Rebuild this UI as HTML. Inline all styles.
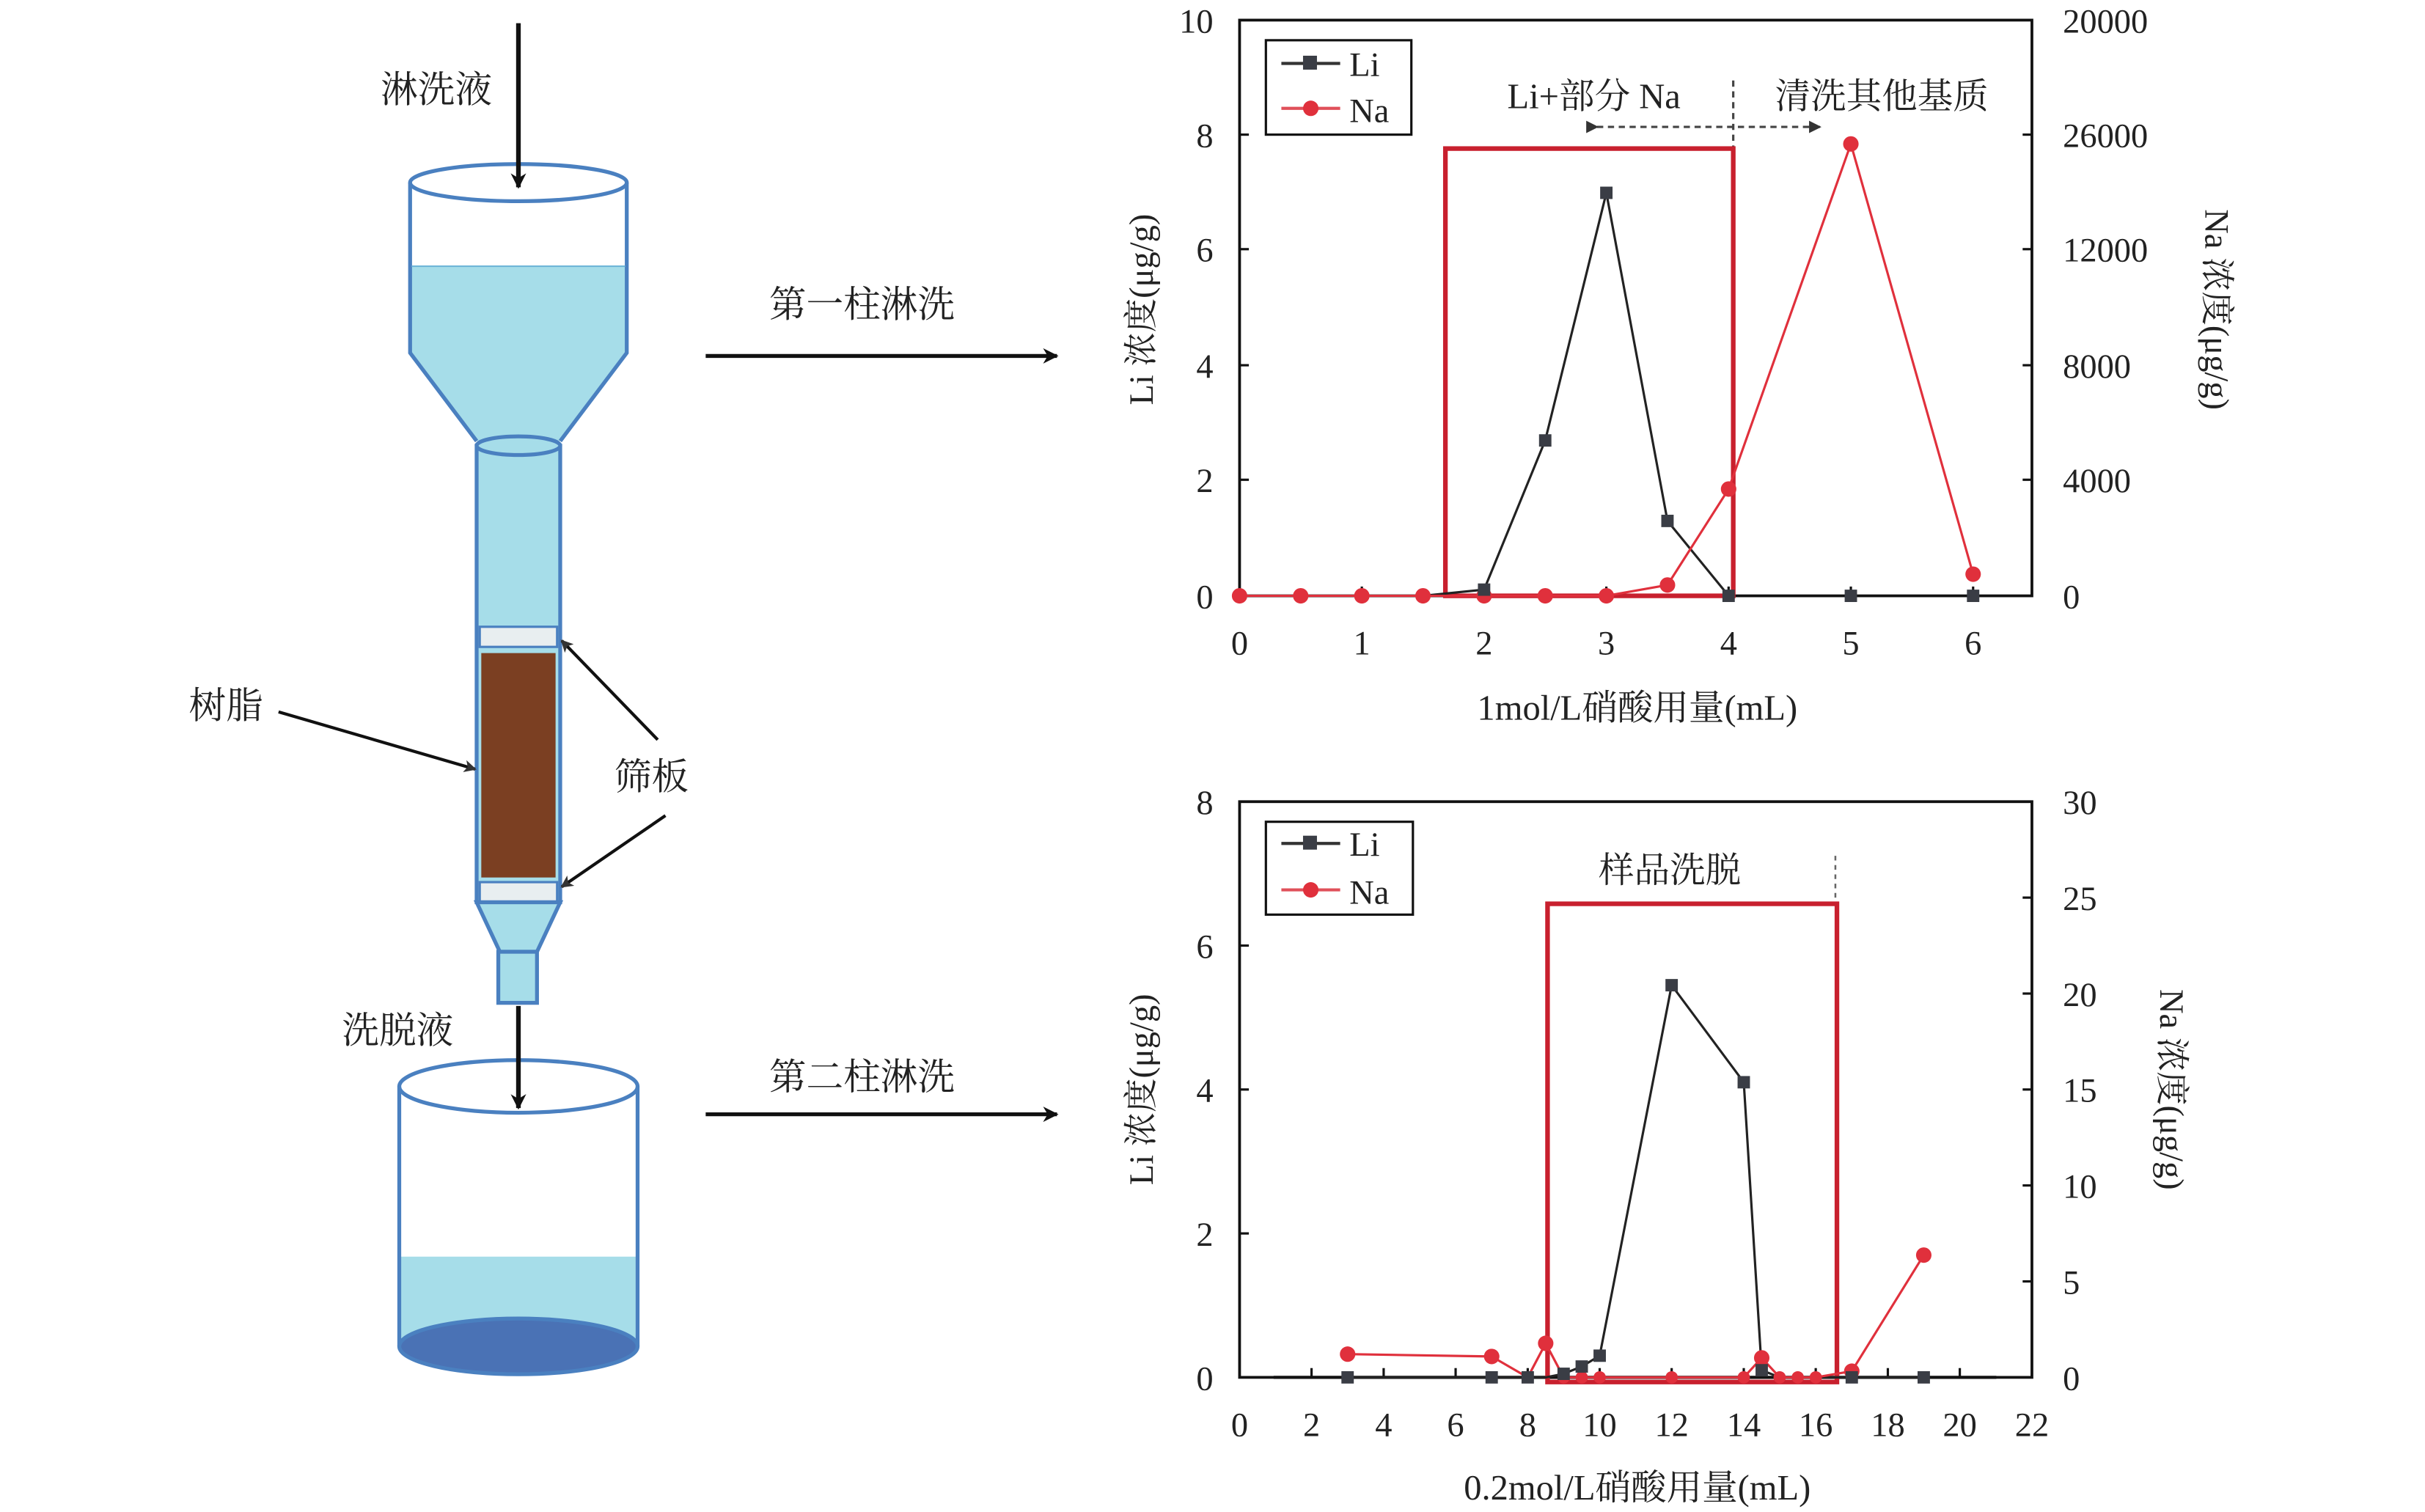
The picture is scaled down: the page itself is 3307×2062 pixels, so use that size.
<!DOCTYPE html>
<html><head><meta charset="utf-8"><style>
html,body{margin:0;padding:0;background:#fff;}
svg{display:block;}
text{font-family:"Liberation Serif","Noto Serif CJK SC","Noto Sans CJK SC",serif;fill:#222;}
</style></head><body>
<svg width="3307" height="2062" viewBox="0 0 1567 977" preserveAspectRatio="none" xmlns="http://www.w3.org/2000/svg">
<defs>
<marker id="ah" markerWidth="10" markerHeight="10" refX="9" refY="5" orient="auto" markerUnits="userSpaceOnUse"><path d="M0,0 L10,5 L0,10 L3,5 Z" fill="#111"/></marker>
<marker id="ah2" markerWidth="8" markerHeight="8" refX="7" refY="4" orient="auto" markerUnits="userSpaceOnUse"><path d="M0,0 L8,4 L0,8 L2,4 Z" fill="#333"/></marker>
<marker id="ah3" markerWidth="8" markerHeight="8" refX="7" refY="4" orient="auto" markerUnits="userSpaceOnUse"><path d="M0,0 L8,4 L0,8 Z" fill="#333"/></marker>
</defs>

<!-- LEFT DIAGRAM -->
<text x="282" y="66" font-size="24" text-anchor="middle">淋洗液</text>
<!-- funnel -->
<path d="M265,172 L405,172 L405,228 L362,285 L308,285 L265,228 Z" fill="#a6dde9"/>
<path d="M265,118 L265,228 L308,285 M405,118 L405,228 L362,285" fill="none" stroke="#4a80c0" stroke-width="2.5"/>
<line x1="266" y1="172" x2="404" y2="172" stroke="#6fb6d8" stroke-width="1"/>
<ellipse cx="335" cy="118" rx="70" ry="12" fill="#fff" stroke="#4a80c0" stroke-width="2.5"/>
<line x1="335" y1="15" x2="335" y2="121" stroke="#111" stroke-width="3" marker-end="url(#ah)"/>
<!-- tube -->
<rect x="308" y="288" width="54" height="295" fill="#a6dde9" stroke="#4a80c0" stroke-width="2.5"/>
<ellipse cx="335" cy="288" rx="27" ry="6" fill="#a6dde9" stroke="#4a80c0" stroke-width="2.5"/>
<rect x="310" y="405" width="50" height="13" fill="#e8eef0" stroke="#4a80c0" stroke-width="1.5"/>
<rect x="311" y="422" width="48" height="145" fill="#7b3f22"/>
<rect x="310" y="570" width="50" height="13" fill="#e8eef0" stroke="#4a80c0" stroke-width="1.5"/>
<path d="M308,583 L362,583 L347,615 L323,615 Z" fill="#a6dde9" stroke="#4a80c0" stroke-width="2.5"/>
<rect x="322" y="615" width="25" height="33" fill="#a6dde9" stroke="#4a80c0" stroke-width="2.5"/>
<text x="146" y="464" font-size="24" text-anchor="middle">树脂</text>
<line x1="180" y1="460" x2="307" y2="497" stroke="#111" stroke-width="2" marker-end="url(#ah2)"/>
<text x="421" y="510" font-size="24" text-anchor="middle">筛板</text>
<line x1="425" y1="478" x2="363" y2="414" stroke="#111" stroke-width="2" marker-end="url(#ah2)"/>
<line x1="430" y1="527" x2="363" y2="573" stroke="#111" stroke-width="2" marker-end="url(#ah2)"/>
<text x="257" y="674" font-size="24" text-anchor="middle">洗脱液</text>
<!-- beaker -->
<path d="M258,812 L412,812 L412,870 L258,870 Z" fill="#a6dde9"/>
<ellipse cx="335" cy="870" rx="77" ry="18" fill="#4a72b5" stroke="#4a80c0" stroke-width="2.5"/>
<line x1="258" y1="702" x2="258" y2="870" stroke="#4a80c0" stroke-width="2.5"/>
<line x1="412" y1="702" x2="412" y2="870" stroke="#4a80c0" stroke-width="2.5"/>
<ellipse cx="335" cy="702" rx="77" ry="17" fill="none" stroke="#4a80c0" stroke-width="2.5"/>
<line x1="335" y1="650" x2="335" y2="716" stroke="#111" stroke-width="3" marker-end="url(#ah)"/>

<text x="557" y="205" font-size="24" text-anchor="middle">第一柱淋洗</text>
<line x1="456" y1="230" x2="683" y2="230" stroke="#111" stroke-width="2.5" marker-end="url(#ah)"/>
<text x="557" y="704" font-size="24" text-anchor="middle">第二柱淋洗</text>
<line x1="456" y1="720" x2="683" y2="720" stroke="#111" stroke-width="2.5" marker-end="url(#ah)"/>

<!-- CHART 1 -->
<rect x="801" y="13" width="512" height="372" fill="none" stroke="#111" stroke-width="1.8"/>
<g stroke="#111" stroke-width="1.5">
<line x1="801" y1="87" x2="807" y2="87"/><line x1="801" y1="161" x2="807" y2="161"/><line x1="801" y1="236" x2="807" y2="236"/><line x1="801" y1="310" x2="807" y2="310"/>
<line x1="1307" y1="87" x2="1313" y2="87"/><line x1="1307" y1="161" x2="1313" y2="161"/><line x1="1307" y1="236" x2="1313" y2="236"/><line x1="1307" y1="310" x2="1313" y2="310"/>
<line x1="880" y1="385" x2="880" y2="379"/><line x1="959" y1="385" x2="959" y2="379"/><line x1="1038" y1="385" x2="1038" y2="379"/><line x1="1117" y1="385" x2="1117" y2="379"/><line x1="1196" y1="385" x2="1196" y2="379"/><line x1="1275" y1="385" x2="1275" y2="379"/>
</g>
<g font-size="22" text-anchor="end">
<text x="784" y="21">10</text><text x="784" y="95">8</text><text x="784" y="169">6</text><text x="784" y="244">4</text><text x="784" y="318">2</text><text x="784" y="393">0</text>
</g>
<g font-size="22" text-anchor="start">
<text x="1333" y="21">20000</text><text x="1333" y="95">26000</text><text x="1333" y="169">12000</text><text x="1333" y="244">8000</text><text x="1333" y="318">4000</text><text x="1333" y="393">0</text>
</g>
<g font-size="22" text-anchor="middle">
<text x="801" y="423">0</text><text x="880" y="423">1</text><text x="959" y="423">2</text><text x="1038" y="423">3</text><text x="1117" y="423">4</text><text x="1196" y="423">5</text><text x="1275" y="423">6</text>
</g>
<text x="1058" y="465" font-size="23" text-anchor="middle">1mol/L硝酸用量(mL)</text>
<text transform="translate(745,200) rotate(-90)" font-size="22" text-anchor="middle">Li 浓度(μg/g)</text>
<text transform="translate(1425,200) rotate(90)" font-size="22" text-anchor="middle">Na 浓度(μg/g)</text>
<rect x="818" y="26" width="94" height="61" fill="#fff" stroke="#111" stroke-width="1.5"/>
<line x1="828" y1="41" x2="866" y2="41" stroke="#333" stroke-width="2"/><rect x="842" y="36" width="9" height="9" fill="#3a3d45"/>
<text x="872" y="49" font-size="22">Li</text>
<line x1="828" y1="70" x2="866" y2="70" stroke="#e0505a" stroke-width="2"/><circle cx="847" cy="70" r="5" fill="#e0303c"/>
<text x="872" y="79" font-size="22">Na</text>
<text x="1030" y="70" font-size="23" text-anchor="middle">Li+部分 Na</text>
<text x="1216" y="70" font-size="23" text-anchor="middle">清洗其他基质</text>
<line x1="1120" y1="52" x2="1120" y2="385" stroke="#444" stroke-width="1.5" stroke-dasharray="4,3"/>
<line x1="1032" y1="82" x2="1176" y2="82" stroke="#444" stroke-width="1.5" stroke-dasharray="4,3" marker-start="url(#ah3)" marker-end="url(#ah3)"/>
<rect x="934" y="96" width="186" height="289" fill="none" stroke="#c8202e" stroke-width="3"/>
<polyline points="801,385 840.5,385 880,385 919.5,385 959,381 998.5,284.6 1038,124.6 1077.5,336.6 1117,385" fill="none" stroke="#222" stroke-width="1.5"/>
<polyline points="801,385 840.5,385 880,385 919.5,385 959,385 998.5,385 1038,385 1077.5,378 1117,316 1196,93 1275,371" fill="none" stroke="#e0303c" stroke-width="1.5"/>
<g fill="#e0303c">
<circle cx="801" cy="385" r="5"/><circle cx="840.5" cy="385" r="5"/><circle cx="880" cy="385" r="5"/><circle cx="919.5" cy="385" r="5"/><circle cx="959" cy="385" r="5"/><circle cx="998.5" cy="385" r="5"/><circle cx="1038" cy="385" r="5"/><circle cx="1077.5" cy="378" r="5"/><circle cx="1117" cy="316" r="5"/><circle cx="1196" cy="93" r="5"/><circle cx="1275" cy="371" r="5"/>
</g>
<g fill="#3a3d45">
<rect x="955" y="377" width="8" height="8"/><rect x="994.5" y="280.6" width="8" height="8"/><rect x="1034" y="120.6" width="8" height="8"/><rect x="1073.5" y="332.6" width="8" height="8"/><rect x="1113" y="381" width="8" height="8"/><rect x="1192" y="381" width="8" height="8"/><rect x="1271" y="381" width="8" height="8"/>
</g>

<!-- CHART 2 -->
<rect x="801" y="518" width="512" height="372" fill="none" stroke="#111" stroke-width="1.8"/>
<g stroke="#111" stroke-width="1.5">
<line x1="801" y1="611" x2="807" y2="611"/><line x1="801" y1="704" x2="807" y2="704"/><line x1="801" y1="797" x2="807" y2="797"/>
<line x1="1307" y1="580" x2="1313" y2="580"/><line x1="1307" y1="642" x2="1313" y2="642"/><line x1="1307" y1="704" x2="1313" y2="704"/><line x1="1307" y1="766" x2="1313" y2="766"/><line x1="1307" y1="828" x2="1313" y2="828"/>
<line x1="847.5" y1="890" x2="847.5" y2="884"/><line x1="894.1" y1="890" x2="894.1" y2="884"/><line x1="940.6" y1="890" x2="940.6" y2="884"/><line x1="987.2" y1="890" x2="987.2" y2="884"/><line x1="1033.7" y1="890" x2="1033.7" y2="884"/><line x1="1080.2" y1="890" x2="1080.2" y2="884"/><line x1="1126.8" y1="890" x2="1126.8" y2="884"/><line x1="1173.3" y1="890" x2="1173.3" y2="884"/><line x1="1219.9" y1="890" x2="1219.9" y2="884"/><line x1="1266.4" y1="890" x2="1266.4" y2="884"/>
</g>
<g font-size="22" text-anchor="end">
<text x="784" y="526">8</text><text x="784" y="619">6</text><text x="784" y="712">4</text><text x="784" y="805">2</text><text x="784" y="898">0</text>
</g>
<g font-size="22" text-anchor="start">
<text x="1333" y="526">30</text><text x="1333" y="588">25</text><text x="1333" y="650">20</text><text x="1333" y="712">15</text><text x="1333" y="774">10</text><text x="1333" y="836">5</text><text x="1333" y="898">0</text>
</g>
<g font-size="22" text-anchor="middle">
<text x="801" y="928">0</text><text x="847.5" y="928">2</text><text x="894.1" y="928">4</text><text x="940.6" y="928">6</text><text x="987.2" y="928">8</text><text x="1033.7" y="928">10</text><text x="1080.2" y="928">12</text><text x="1126.8" y="928">14</text><text x="1173.3" y="928">16</text><text x="1219.9" y="928">18</text><text x="1266.4" y="928">20</text><text x="1313" y="928">22</text>
</g>
<text x="1058" y="969" font-size="23" text-anchor="middle">0.2mol/L硝酸用量(mL)</text>
<text transform="translate(745,704) rotate(-90)" font-size="22" text-anchor="middle">Li 浓度(μg/g)</text>
<text transform="translate(1396,704) rotate(90)" font-size="22" text-anchor="middle">Na 浓度(μg/g)</text>
<rect x="818" y="531" width="95" height="60" fill="#fff" stroke="#111" stroke-width="1.5"/>
<line x1="828" y1="545" x2="866" y2="545" stroke="#333" stroke-width="2"/><rect x="842" y="540" width="9" height="9" fill="#3a3d45"/>
<text x="872" y="553" font-size="22">Li</text>
<line x1="828" y1="575" x2="866" y2="575" stroke="#e0505a" stroke-width="2"/><circle cx="847" cy="575" r="5" fill="#e0303c"/>
<text x="872" y="584" font-size="22">Na</text>
<text x="1079" y="570" font-size="23" text-anchor="middle">样品洗脱</text>
<line x1="1186" y1="553" x2="1186" y2="580" stroke="#666" stroke-width="1.2" stroke-dasharray="3,3"/>
<line x1="823" y1="890" x2="1290" y2="890" stroke="#111" stroke-width="2"/>
<rect x="1000" y="584" width="187" height="309" fill="none" stroke="#c8202e" stroke-width="3"/>
<polyline points="870.8,890 963.9,890 987.2,890 998.8,890 1010.4,887.7 1022.1,883 1033.7,876 1080.2,636.6 1126.8,699.3 1138.4,885.4 1150,890 1161.7,890 1173.3,890 1196.6,890 1243.1,890" fill="none" stroke="#222" stroke-width="1.5"/>
<polyline points="870.8,875 963.9,876.5 987.2,890 998.8,868 1010.4,890 1033.7,890 1080.2,890 1126.8,890 1138.4,877.4 1150,890 1173.3,890 1196.6,886 1243.1,811" fill="none" stroke="#e0303c" stroke-width="1.5"/>
<g fill="#e0303c">
<circle cx="870.8" cy="875" r="5"/><circle cx="963.9" cy="876.5" r="5"/><circle cx="998.8" cy="868" r="5"/><circle cx="1010.4" cy="890" r="4"/><circle cx="1022.1" cy="890" r="4"/><circle cx="1033.7" cy="890" r="4"/><circle cx="1080.2" cy="890" r="4"/><circle cx="1126.8" cy="890" r="4"/><circle cx="1138.4" cy="877.4" r="5"/><circle cx="1150" cy="890" r="4"/><circle cx="1161.7" cy="890" r="4"/><circle cx="1173.3" cy="890" r="4"/><circle cx="1196.6" cy="886" r="5"/><circle cx="1243.1" cy="811" r="5"/>
</g>
<g fill="#3a3d45">
<rect x="866.8" y="886" width="8" height="8"/><rect x="959.9" y="886" width="8" height="8"/><rect x="983.2" y="886" width="8" height="8"/><rect x="1006.4" y="883.7" width="8" height="8"/><rect x="1018.1" y="879" width="8" height="8"/><rect x="1029.7" y="872" width="8" height="8"/><rect x="1076.2" y="632.6" width="8" height="8"/><rect x="1122.8" y="695.3" width="8" height="8"/><rect x="1134.4" y="881.4" width="8" height="8"/><rect x="1192.6" y="886" width="8" height="8"/><rect x="1239.1" y="886" width="8" height="8"/>
</g>
</svg>
</body></html>
